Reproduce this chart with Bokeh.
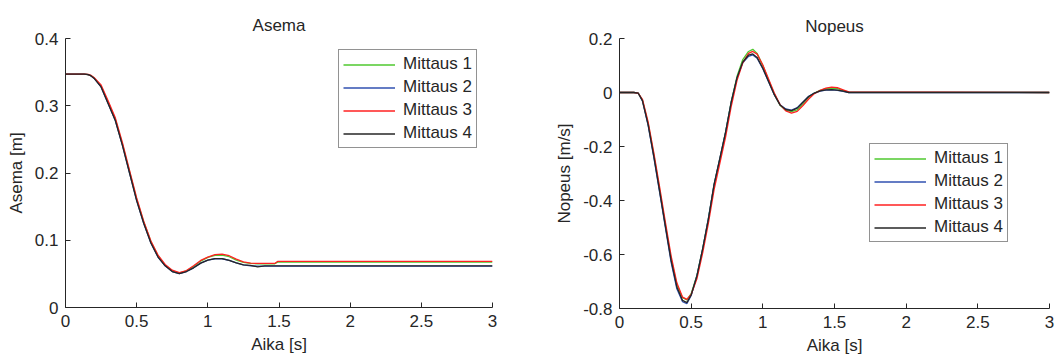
from bokeh.plotting import figure
from bokeh.layouts import row
from bokeh.models import Legend, LegendItem, FixedTicker, Range1d, CustomJSTickFormatter
from bokeh.embed import file_html
from bokeh.resources import INLINE

# ---------------- data ----------------
series_names = ["Mittaus 1", "Mittaus 2", "Mittaus 3", "Mittaus 4"]
series_colors = ["#4fc92f", "#3050b0", "#ff2020", "#262626"]

# Asema (position) [m]
t_pos = [0, 0.1, 0.13, 0.16, 0.18, 0.2, 0.25, 0.3, 0.35, 0.4, 0.45, 0.5, 0.55, 0.6, 0.65,
         0.7, 0.75, 0.8, 0.85, 0.9, 0.95, 1.0, 1.05, 1.1, 1.15, 1.2, 1.25, 1.3, 1.35, 1.4,
         1.45, 1.47, 1.49, 3.0]
pos_m1 = [0.347, 0.347, 0.347, 0.3463, 0.3445, 0.3415, 0.329, 0.305, 0.280, 0.243, 0.202,
          0.161, 0.127, 0.098, 0.077, 0.063, 0.0545, 0.051, 0.0545, 0.061, 0.069, 0.0745,
          0.0775, 0.078, 0.0755, 0.0705, 0.067, 0.0655, 0.065, 0.065, 0.065, 0.065, 0.0675,
          0.0675]
pos_m2 = [0.347, 0.347, 0.347, 0.3462, 0.3443, 0.341, 0.328, 0.303, 0.278, 0.241, 0.200,
          0.159, 0.125, 0.096, 0.075, 0.062, 0.0535, 0.0505, 0.0535, 0.059, 0.066, 0.0705,
          0.0725, 0.0725, 0.070, 0.0665, 0.0635, 0.062, 0.0615, 0.0615, 0.0615, 0.0615,
          0.0615, 0.0615]
pos_m3 = [0.347, 0.347, 0.347, 0.3465, 0.345, 0.342, 0.331, 0.307, 0.282, 0.245, 0.204,
          0.163, 0.128, 0.099, 0.078, 0.064, 0.0555, 0.052, 0.055, 0.062, 0.070, 0.075,
          0.0785, 0.0795, 0.077, 0.072, 0.068, 0.066, 0.0655, 0.0655, 0.0655, 0.0655, 0.0685,
          0.0685]
pos_m4 = [0.347, 0.347, 0.347, 0.3462, 0.3443, 0.341, 0.328, 0.303, 0.278, 0.241, 0.200,
          0.159, 0.125, 0.096, 0.075, 0.062, 0.0535, 0.0505, 0.0535, 0.059, 0.066, 0.0705,
          0.0728, 0.0728, 0.070, 0.0665, 0.0635, 0.0625, 0.0605, 0.062, 0.062, 0.062, 0.062,
          0.062]

# Nopeus (velocity) [m/s]
t_vel = [0, 0.1, 0.13, 0.16, 0.2, 0.24, 0.28, 0.32, 0.36, 0.4, 0.44, 0.47, 0.5, 0.54, 0.58,
         0.62, 0.66, 0.7, 0.74, 0.78, 0.82, 0.86, 0.9, 0.93, 0.96, 1.0, 1.04, 1.08, 1.12,
         1.16, 1.2, 1.24, 1.28, 1.32, 1.36, 1.4, 1.44, 1.48, 1.52, 1.56, 1.6, 3.0]
vel_m1 = [0, 0, -0.002, -0.028, -0.115, -0.232, -0.36, -0.49, -0.615, -0.712, -0.76, -0.768,
          -0.745, -0.678, -0.58, -0.468, -0.342, -0.247, -0.148, -0.033, 0.06, 0.122, 0.152,
          0.16, 0.145, 0.1, 0.046, -0.006, -0.047, -0.066, -0.071, -0.064, -0.042, -0.018,
          -0.002, 0.008, 0.014, 0.016, 0.014, 0.007, 0.001, 0]
vel_m2 = [0, 0, -0.002, -0.031, -0.123, -0.242, -0.37, -0.5, -0.628, -0.727, -0.775, -0.782,
          -0.752, -0.678, -0.58, -0.466, -0.34, -0.244, -0.147, -0.034, 0.054, 0.11, 0.134,
          0.139, 0.127, 0.088, 0.04, -0.008, -0.045, -0.061, -0.065, -0.056, -0.035, -0.014,
          -0.002, 0.005, 0.009, 0.01, 0.008, 0.004, 0, 0]
vel_m3 = [0, 0, -0.002, -0.025, -0.11, -0.225, -0.35, -0.48, -0.605, -0.705, -0.758, -0.766,
          -0.748, -0.69, -0.595, -0.485, -0.36, -0.262, -0.165, -0.05, 0.045, 0.11, 0.145,
          0.152, 0.142, 0.102, 0.05, -0.002, -0.045, -0.068, -0.076, -0.07, -0.048, -0.024,
          -0.004, 0.008, 0.016, 0.02, 0.018, 0.01, 0.002, 0]
vel_m4 = [0, 0, -0.002, -0.03, -0.12, -0.238, -0.365, -0.495, -0.622, -0.72, -0.77, -0.778,
          -0.75, -0.68, -0.58, -0.47, -0.34, -0.245, -0.148, -0.035, 0.055, 0.113, 0.138,
          0.143, 0.13, 0.09, 0.041, -0.008, -0.046, -0.063, -0.067, -0.058, -0.036, -0.015,
          -0.002, 0.006, 0.01, 0.011, 0.009, 0.005, 0, 0]

x_ticks = [0, 0.5, 1, 1.5, 2, 2.5, 3]
x_tick_labels = ["0", "0.5", "1", "1.5", "2", "2.5", "3"]
pos_ticks = [0, 0.1, 0.2, 0.3, 0.4]
pos_tick_labels = ["0", "0.1", "0.2", "0.3", "0.4"]
vel_ticks = [-0.8, -0.6, -0.4, -0.2, 0, 0.2]
vel_tick_labels = ["-0.8", "-0.6", "-0.4", "-0.2", "0", "0.2"]

FONT = "Liberation Sans"
TXT = "#262626"
FS = "17px"


def tick_formatter(tvals, tlabels):
    return CustomJSTickFormatter(
        args=dict(tvals=tvals, tlabels=tlabels),
        code="const i = tvals.findIndex(v => Math.abs(v - tick) < 1e-9); return i >= 0 ? tlabels[i] : '';",
    )


def make_fig(title, ylabel, yr, yticks, ylabels, t, ys, legend_xy,
             fw, fh, bl, br, bt, bb, title_standoff):
    p = figure(frame_width=fw, frame_height=fh, min_border_left=bl, min_border_right=br,
               min_border_top=bt, min_border_bottom=bb,
               x_range=Range1d(0, 3), y_range=Range1d(*yr),
               output_backend="svg", toolbar_location=None, title=title)
    p.outline_line_color = None
    p.xgrid.visible = False
    p.ygrid.visible = False
    p.background_fill_color = "white"
    p.border_fill_color = "white"

    p.title.align = "center"
    p.title.text_font = FONT
    p.title.text_font_size = FS
    p.title.text_font_style = "normal"
    p.title.text_color = TXT
    p.title.standoff = title_standoff

    p.xaxis.ticker = FixedTicker(ticks=x_ticks)
    p.xaxis.formatter = tick_formatter(x_ticks, x_tick_labels)
    p.yaxis.ticker = FixedTicker(ticks=yticks)
    p.yaxis.formatter = tick_formatter(yticks, ylabels)
    p.xaxis.axis_label = "Aika [s]"
    p.yaxis.axis_label = ylabel
    for ax in (p.xaxis, p.yaxis):
        ax.axis_line_color = TXT
        ax.axis_line_width = 1
        ax.major_tick_line_color = TXT
        ax.major_tick_in = 5
        ax.major_tick_out = 0
        ax.minor_tick_line_color = None
        ax.major_label_text_font = FONT
        ax.major_label_text_font_size = FS
        ax.major_label_text_color = TXT
        ax.axis_label_text_font = FONT
        ax.axis_label_text_font_size = FS
        ax.axis_label_text_font_style = "normal"
        ax.axis_label_text_color = TXT
    p.xaxis.major_label_standoff = 7
    p.xaxis.axis_label_standoff = 5
    p.yaxis.major_label_standoff = 7
    p.yaxis.axis_label_standoff = 6

    items = []
    for name, color, y in zip(series_names, series_colors, ys):
        r = p.line(t, y, line_color=color, line_width=1.3)
        items.append(LegendItem(label=name, renderers=[r]))

    leg = Legend(items=items, location=legend_xy, margin=0, padding=4, spacing=3,
                 label_height=19, glyph_height=19, glyph_width=52, label_standoff=8,
                 label_text_font=FONT, label_text_font_size=FS, label_text_color=TXT,
                 border_line_color=TXT, border_line_width=1,
                 background_fill_color="white", background_fill_alpha=1.0)
    p.add_layout(leg)
    return p


p1 = make_fig("Asema", "Asema [m]", (0, 0.4), pos_ticks, pos_tick_labels, t_pos,
              [pos_m1, pos_m2, pos_m3, pos_m4], (273, 159),
              fw=427, fh=269, bl=65, br=56, bt=38, bb=49, title_standoff=8)
p2 = make_fig("Nopeus", "Nopeus [m/s]", (-0.8, 0.2), vel_ticks, vel_tick_labels, t_vel,
              [vel_m1, vel_m2, vel_m3, vel_m4], (250, 66),
              fw=430, fh=270, bl=71, br=8, bt=36, bb=50, title_standoff=5)

layout = row(p1, p2)
open("out.html", "w").write(file_html(layout, INLINE))
